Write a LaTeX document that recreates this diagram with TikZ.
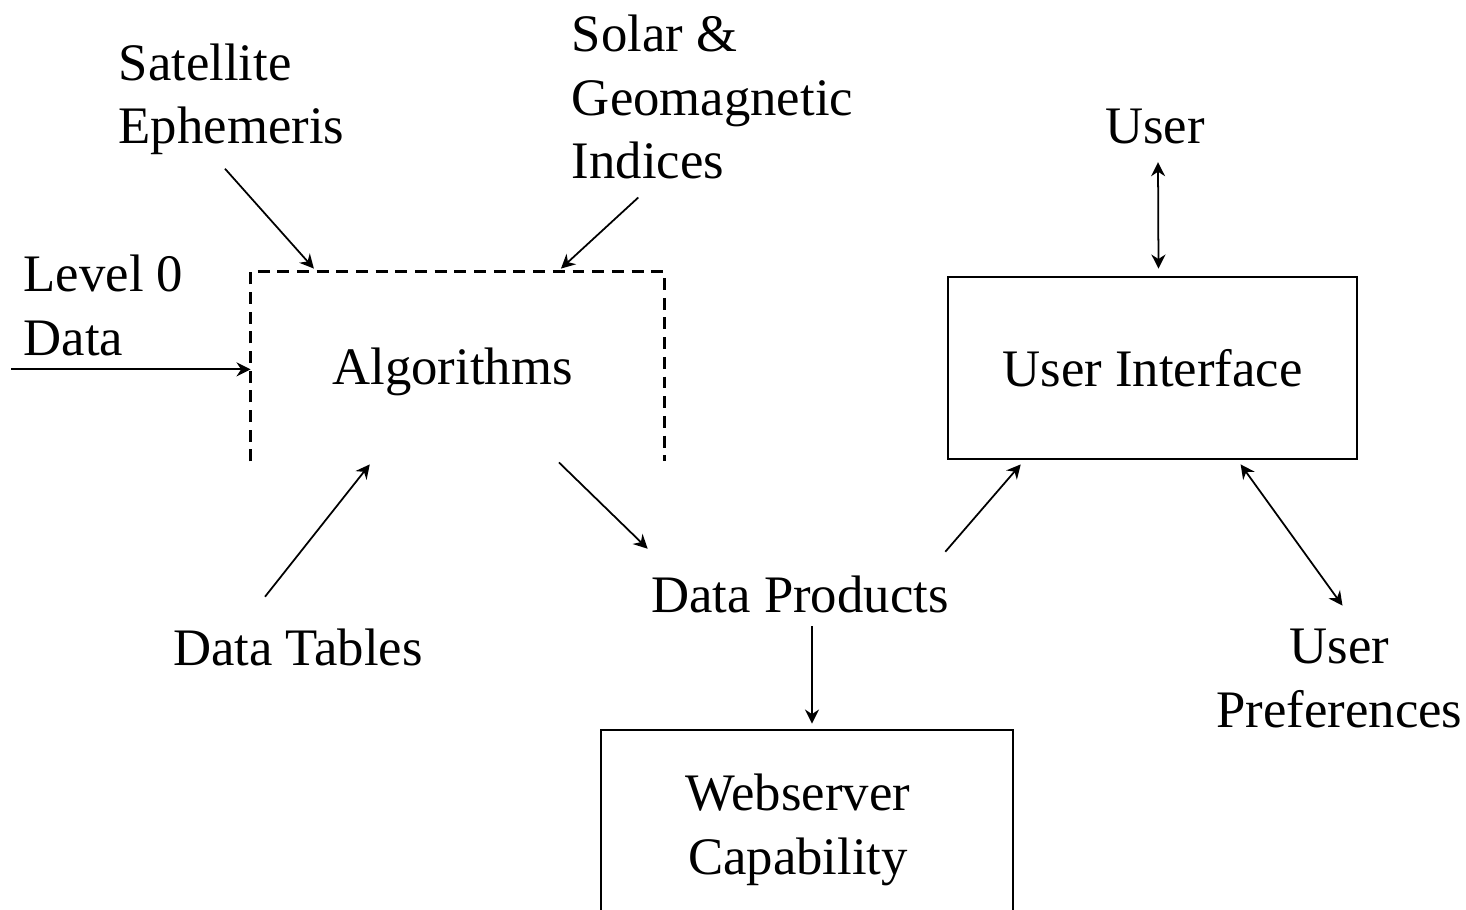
\documentclass[tikz,border=0pt]{standalone}
\usepackage{fontspec}
\setmainfont{Liberation Serif}
\usetikzlibrary{shapes,arrows.meta,calc}
\tikzstyle{lbl} = [inner sep=0pt, font=\fontsize{15}{18}\selectfont]
\tikzstyle{box} = [lbl, rectangle, line width=0.8pt, text centered]
\tikzstyle{arr} = [-{Stealth[length=4pt,width=4pt]}, line width=0.5pt]
\tikzstyle{darr} = [{Stealth[length=4pt,width=4pt]}-{Stealth[length=4pt,width=4pt]}, line width=0.5pt]

\begin{document}
\begin{tikzpicture}
		\useasboundingbox (0,0) rectangle (14.66,9.09);
		\node[lbl,align=left](sat) at (2.315,8.095){Satellite\\Ephemeris};
		\node[lbl,align=left](solar) at (7.125,8.12){Solar \&\\Geomagnetic\\Indices};
		\node[lbl](user) at (11.55,7.82){User};
		\node[lbl,align=left](lvl) at (1.035,6.035){Level 0\\Data};
		\node[box,text depth=0pt,minimum width=4.11cm,minimum height=1.87cm](alg) at (4.575,5.425){\hspace*{-0.1cm}Algorithms};
		\node[box,draw,minimum width=4.09cm,minimum height=1.82cm](ui) at (11.525,5.41){User Interface};
		\node[lbl](prod) at (8.00,3.15){Data Products};
		\node[lbl](tables) at (2.98,2.62){Data Tables};
		\node[lbl,align=center](prefs) at (13.395,2.305){User\\Preferences};
		\node[box,draw,align=center,minimum width=4.12cm,minimum height=2cm](web) at (8.07,0.79){\hspace*{-0.18cm}Webserver\\\hspace*{-0.18cm}Capability};
		
		\draw[line width=0.8pt,dash pattern=on 3.4pt off 2.2pt] (alg.south west)--(alg.north west)--(alg.north east)--(alg.south east);
		
		\draw[arr] ($(sat.south)+(-0.065,-0.13)$)--($(alg.north west)!0.153!(alg.north east)+(0,0.03)$);
		\draw[arr] ($(solar.south west)+(0.67,-0.18)$)--($(alg.north west)!0.75!(alg.north east)+(0,0.03)$);
		\draw[arr] ($(lvl.south west)+(-0.12,-0.13)$) coordinate (l0)--(l0 -| alg.west);
		\draw[arr] ($(tables.north)+(-0.33,0.31)$)--($(alg.south west)!0.288!(alg.south east)+(0,-0.03)$);
		\draw[arr] ($(alg.south west)!0.745!(alg.south east)+(0,-0.01)$)--($(prod.north west)+(-0.03,0.26)$);
		\draw[arr] ($(prod.north east)+(-0.04,0.23)$)--($(ui.south west)!0.18!(ui.south east)+(0,-0.04)$);
		\draw[darr] ($(ui.south west)!0.714!(ui.south east)+(0,-0.04)$)--($(prefs.north)+(0.03,0.23)$);
		\draw[darr] ($(user.south)+(0.03,-0.17)$)--($(ui.north)+(0.06,0.07)$);
		\draw[arr] ($(prod.south)+(0.12,-0.13)$)--($(web.north)+(0.05,0.05)$);
		\end{tikzpicture}
\end{document}
